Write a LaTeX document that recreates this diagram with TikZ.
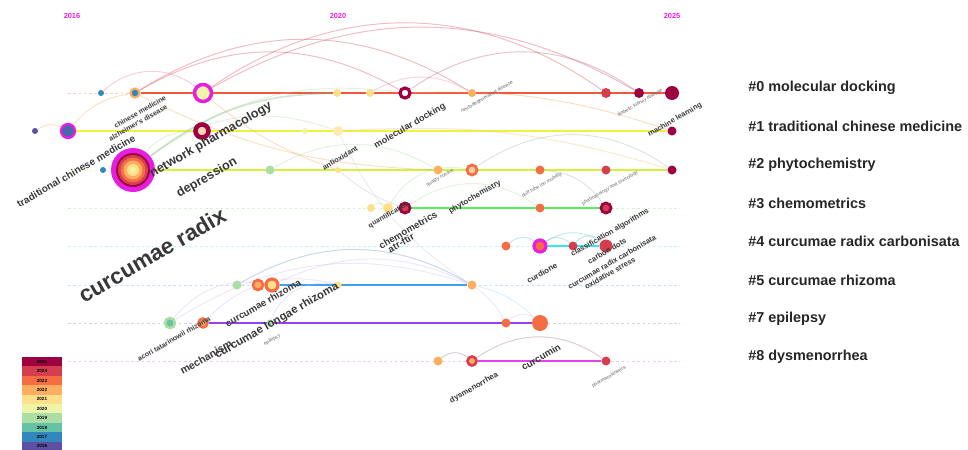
\documentclass[tikz,border=0pt]{standalone}
\usepackage{fontspec}
\setmainfont{Liberation Sans}
\usetikzlibrary{positioning,backgrounds}
\definecolor{yr2025}{HTML}{9E0142}
\definecolor{yr2024}{HTML}{D53E4F}
\definecolor{yr2023}{HTML}{F46D43}
\definecolor{yr2022}{HTML}{FDAE61}
\definecolor{yr2021}{HTML}{FEE08B}
\definecolor{yr2020}{HTML}{EEF5A8}
\definecolor{yr2019}{HTML}{ABDDA4}
\definecolor{yr2018}{HTML}{66C2A5}
\definecolor{yr2017}{HTML}{3288BD}
\definecolor{yr2016}{HTML}{5E4FA2}
\definecolor{ringpink}{HTML}{E61EE0}
\definecolor{rowA}{HTML}{F0583E}
\definecolor{rowB}{HTML}{F2F23A}
\definecolor{rowC}{HTML}{D6F03C}
\definecolor{rowD}{HTML}{5AEE62}
\definecolor{rowE}{HTML}{34E6F0}
\definecolor{rowF}{HTML}{3CA2F0}
\definecolor{rowG}{HTML}{9444E8}
\definecolor{rowH}{HTML}{E244EC}

\begin{document}
\begin{tikzpicture}[x=0.02cm,y=0.02cm,
  kw/.style={circle,inner sep=0pt,minimum size=#1*0.02cm},
  lbl/.style={font=\bfseries\fontsize{#1}{#1}\selectfont,text=black!78,rotate=30,inner sep=0pt},
  tiny/.style={font=\fontsize{2.8}{3}\selectfont,text=black!60,rotate=30,inner sep=0pt},
  guide/.style={line width=0.4pt,dash pattern=on 1.5pt off 1.5pt,opacity=0.3},
  tl/.style={line width=1.6pt},
  arc/.style={line width=0.55pt,opacity=0.35},
  yearlab/.style={font=\bfseries\fontsize{4.2}{5}\selectfont,text=ringpink},
  clu/.style={font=\bfseries\fontsize{8.2}{9}\selectfont,text=black!85,anchor=west,inner sep=0pt},
  leg/.style={minimum width=40*0.02cm,minimum height=9.4*0.02cm,inner sep=0pt,
    font=\bfseries\fontsize{2.6}{3}\selectfont}]
  \useasboundingbox (0,0) rectangle (968,-450);

  % years
  \node[yearlab] (y16) at (72,-16) {2016};
  \node[yearlab] (y20) at (338,-16) {2020};
  \node[yearlab] (y25) at (672,-16) {2025};

  % #0
  \node[kw=6,fill=yr2017] (a1) at (101,-93) {};
  \node[kw=9,fill=yr2017,draw=yr2022,line width=1.2pt] (a2) at (135,-93) {};
  \node[kw=17,fill=yr2020,draw=ringpink,line width=2pt] (a3) at (203,-93) {};
  \node[kw=8,fill=yr2021] (a4) at (337,-93) {};
  \node[kw=8,fill=yr2021] (a5) at (370,-93) {};
  \node[kw=10,fill=white,draw=yr2025,line width=1.8pt] (a6) at (405,-93) {};
  \node[kw=8,fill=yr2022] (a7) at (472,-93) {};
  \node[kw=10,fill=yr2024] (a8) at (606,-93) {};
  \node[kw=10,fill=yr2025] (a9) at (639,-93) {};
  \node[kw=14,fill=yr2025] (a10) at (672,-93) {};
  % #1
  \node[kw=6,fill=yr2016] (b0) at (35,-131) {};
  \node[kw=14,fill=yr2016!60!yr2017,draw=ringpink,line width=1.3pt] (b1) at (68,-131) {};
  \node[kw=13,fill=yr2022!50!white,draw=yr2025,line width=2.6pt] (b2) at (202,-131) {};
  \node[kw=6,fill=yr2020] (b3) at (305,-131) {};
  \node[kw=10,fill=yr2021!70!white] (b4) at (338,-131) {};
  \node[kw=9,fill=yr2025] (b5) at (672,-131) {};
  % #2
  \node[kw=6,fill=yr2017] (c1) at (103,-170) {};
  \node[kw=44,fill=ringpink] (c2) at (133,-170) {};
  \fill[yr2025] (c2) circle (17);
  \fill[yr2024] (c2) circle (15);
  \fill[yr2023] (c2) circle (12.5);
  \fill[yr2022] (c2) circle (9.5);
  \fill[yr2021] (c2) circle (6);
  \fill[yr2020] (c2) circle (3);
  \node[kw=9,fill=yr2019] (c3) at (270,-170) {};
  \node[kw=6,fill=yr2021] (c4) at (338,-170) {};
  \node[kw=9,fill=yr2022] (c5) at (438,-170) {};
  \node[kw=10,fill=yr2022!60!white,draw=yr2023,line width=1.6pt] (c6) at (472,-170) {};
  \node[kw=9,fill=yr2023] (c7) at (540,-170) {};
  \node[kw=9,fill=yr2024] (c8) at (606,-170) {};
  \node[kw=9,fill=yr2025] (c9) at (672,-170) {};
  % #3
  \node[kw=8,fill=yr2021] (d1) at (371,-208) {};
  \node[kw=10,fill=yr2021] (d2) at (388,-208) {};
  \node[kw=10,fill=yr2024,draw=yr2025,line width=1.6pt] (d3) at (405,-208) {};
  \node[kw=9,fill=yr2023] (d4) at (540,-208) {};
  \node[kw=10,fill=yr2024,draw=yr2025,line width=1.6pt] (d5) at (606,-208) {};
  % #4
  \node[kw=9,fill=yr2023] (e1) at (506,-246) {};
  \node[kw=12,fill=yr2023,draw=ringpink,line width=1.8pt] (e2) at (540,-246) {};
  \node[kw=9,fill=yr2024] (e3) at (573,-246) {};
  \node[kw=13,fill=yr2024] (e4) at (606,-246) {};
  % #5
  \node[kw=9,fill=yr2019] (f1) at (237,-285) {};
  \node[kw=10,fill=yr2022,draw=yr2023,line width=1.5pt] (f2) at (258,-285) {};
  \node[kw=12,fill=yr2021,draw=yr2023,line width=1.8pt] (f3) at (272,-285) {};
  \node[kw=7,fill=yr2021] (f4) at (338,-285) {};
  \node[kw=9,fill=yr2022] (f5) at (472,-285) {};
  % #7
  \node[kw=10,fill=yr2018,draw=yr2019,line width=1.5pt] (g1) at (170,-323) {};
  \node[kw=9,fill=yr2022,draw=yr2023,line width=1.4pt] (g2) at (203,-323) {};
  \node[kw=7,fill=yr2019] (g3) at (270,-323) {};
  \node[kw=9,fill=yr2023] (g4) at (506,-323) {};
  \node[kw=16,fill=yr2023] (g5) at (540,-323) {};
  % #8
  \node[kw=9,fill=yr2022] (h1) at (438,-361) {};
  \node[kw=9,fill=yr2022,draw=yr2024,line width=1.5pt] (h2) at (472,-361) {};
  \node[kw=9,fill=yr2024] (h3) at (606,-361) {};

  \begin{pgfonlayer}{background}
    \foreach \r/\y/\c in {0/93/rowA,1/131/rowB,2/170/rowC,3/208/rowD,4/246/rowE,5/285/rowF,7/323/rowG,8/361/rowH}{
      \coordinate (gs\r) at (68,-\y);
      \coordinate (ge\r) at (680,-\y);
      \draw[guide,draw=\c] (gs\r) -- (ge\r);
    }
    \draw[tl,rowA] (a2) -- (a10);
    \draw[tl,rowB] (b1) -- (b5);
    \draw[tl,rowC] (c2) -- (c9);
    \draw[tl,rowD] (d3) -- (d5);
    \draw[tl,rowE] (e2) -- (e4);
    \draw[tl,rowF] (f3) -- (f5);
    \draw[tl,rowG] (g2) -- (g5);
    \draw[tl,rowH] (h2) -- (h3);
    % citation arcs
    \draw[arc,yr2024] (a3) to[bend left=35] (a8);
    \draw[arc,yr2024] (a2) to[bend left=32] (a7);
    \draw[arc,yr2024] (a2) to[bend left=30] (a6);
    \draw[arc,yr2024] (a3) to[bend left=30] (a9);
    \draw[arc,yr2025!70] (a6) to[bend left=35] (a9);
    \draw[arc,yr2024!70] (a1) to[bend left=40] (a3);
    \draw[arc,yr2022!80!brown] (b0) to[bend left=30] (b1);
    \draw[arc,yr2022!80!brown] (b1) to[bend left=20] (a2);
    \draw[arc,yr2022!80!brown] (a2) to[bend left=-12] (c5);
    \draw[arc,yr2022!80!brown] (a3) to[bend left=-10] (c4);
    \draw[arc,yr2019!80!black,line width=1pt] (c2) to[bend left=18] (a4);
    \draw[arc,yr2019] (c2) to[bend left=22] (a6);
    \draw[arc,yr2019] (c2) to[bend left=25] (b2);
    \draw[arc,yr2019] (c2) to[bend left=28] (b4);
    \draw[arc,yr2019] (c3) to[bend left=30] (c5);
    \draw[arc,yr2022!70!brown] (a6) to[bend left=10] (b5);
    \draw[arc,yr2021!70!brown] (b4) to[bend left=10] (c9);
    \draw[arc,yr2019!60!gray] (c6) to[bend left=35] (c9);
    \draw[arc,yr2024!60] (a5) to[bend left=30] (a7);
    \draw[arc,yr2019] (d2) to[bend left=35] (c6);
    \draw[arc,yr2019] (d3) to[bend left=35] (d4);
    \draw[arc,yr2019] (d1) to[bend left=40] (d2);
    \draw[arc,yr2019!60!gray] (c7) to[bend left=25] (d5);
    \draw[arc,rowE!60!gray] (e1) to[bend left=40] (e2);
    \draw[arc,rowE!60!gray] (e2) to[bend left=40] (e3);
    \draw[arc,rowE!60!gray] (e3) to[bend left=50] (e4);
    \draw[arc,rowE!70!gray] (e2) to[bend left=35] (e4);
    \draw[arc,rowF!50!gray] (f1) to[bend left=30] (f5);
    \draw[arc,rowG!40] (f3) to[bend left=25] (f5);
    \draw[arc,rowG!40] (g1) to[bend left=30] (f3);
    \draw[arc,rowG!40] (g1) to[bend left=25] (f5);
    \draw[arc,rowG!40] (g2) to[bend left=30] (f4);
    \draw[arc,rowG!40] (g3) to[bend left=40] (f4);
    \draw[arc,rowF!50] (f5) to[bend left=15] (g5);
    \draw[arc,rowG!40] (f5) to[bend left=12] (g4);
    \draw[arc,rowG!40] (g4) to[bend left=40] (g5);
    \draw[arc,yr2024!30!gray] (h1) to[bend left=40] (h2);
    \draw[arc,yr2024!30!gray] (h2) to[bend left=35] (h3);
    \draw[arc,gray!50] (c4) to[bend left=-10] (d3);
    \draw[arc,gray!40] (b4) to[bend left=-15] (f5);
  \end{pgfonlayer}

  % keyword labels
  \node[lbl=5.7] (tcmlab) at (76,-171) {traditional chinese medicine};
  \node[lbl=7.2] (netlab) at (211,-140) {network pharmacology};
  \node[lbl=7.2] (deplab) at (207,-178) {depression};
  \node[lbl=12.8] (radlab) at (152,-255) {curcumae radix};
  \node[lbl=4] (cmlab) at (140,-112) {chinese medicine};
  \node[lbl=4] (adlab) at (138,-123) {alzheimer's disease};
  \node[lbl=4.2] (antlab) at (340,-158) {antioxidant};
  \node[lbl=5.2] (doclab) at (410,-126) {molecular docking};
  \node[lbl=4.2] (mllab) at (675,-120) {machine learning};
  \node[lbl=4.5] (phylab) at (475,-197) {phytochemistry};
  \node[lbl=4] (qualab) at (389,-215) {quantification};
  \node[lbl=5.5] (chelab) at (408,-230) {chemometrics};
  \node[lbl=5.5] (atrlab) at (401,-243) {atr-ftir};
  \node[lbl=4.3] (clalab) at (610,-233) {classification algorithms};
  \node[lbl=4.3] (cdlab) at (607,-251) {carbon dots};
  \node[lbl=4.3] (crclab) at (612,-262) {curcumae radix carbonisata};
  \node[lbl=4.3] (oxlab) at (610,-273) {oxidative stress};
  \node[lbl=4.5] (curdlab) at (542,-273) {curdione};
  \node[lbl=5.5] (crhlab) at (263,-303) {curcumae rhizoma};
  \node[lbl=6.5] (clrlab) at (277,-321) {curcumae longae rhizoma};
  \node[lbl=6] (mechlab) at (206,-357) {mechanism};
  \node[lbl=4] (atrhlab) at (174,-339) {acori tatarinowii rhizoma};
  \node[lbl=5.5] (cumlab) at (541,-357) {curcumin};
  \node[lbl=4.5] (dyslab) at (474,-388) {dysmenorrhea};
  \node[tiny] (epilab) at (272,-340) {epilepsy};
  \node[tiny] (ptlab) at (610,-188) {pharmacology and toxicology};
  \node[tiny] (dtlab) at (542,-185) {drift tube ion mobility};
  \node[tiny] (qclab) at (440,-178) {quality control};
  \node[tiny] (pklab) at (609,-377) {pharmacokinetics};
  \node[tiny] (ndlab) at (487,-97) {neurodegenerative disease};
  \node[tiny] (dklab) at (640,-103) {diabetic kidney disease};

  % cluster names
  \foreach \t [count=\i from 0] in {\#0 molecular docking,\#1 traditional chinese medicine,
      \#2 phytochemistry,\#3 chemometrics,\#4 curcumae radix carbonisata,
      \#5 curcumae rhizoma,\#7 epilepsy,\#8 dysmenorrhea}
    \node[clu] (clu\i) at (748,-88-38.43*\i) {\t};

  % year colour key
  \foreach \yr [count=\i from 0] in {2025,2024,2023,2022,2021,2020,2019,2018,2017,2016}
    \node[leg,fill=yr\yr] (key\yr) at (42,-361.7-9.4*\i) {\yr};
\end{tikzpicture}
\end{document}
